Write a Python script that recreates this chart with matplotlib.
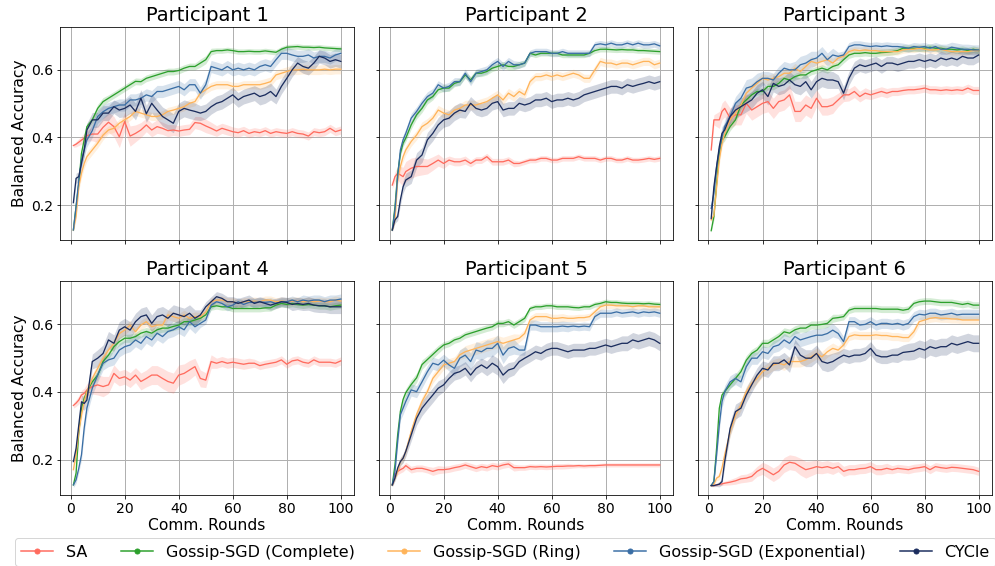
import matplotlib
matplotlib.use("Agg")
import matplotlib.pyplot as plt
import numpy as np
from matplotlib.lines import Line2D

ROUNDS = [1, 2, 3, 4, 5, 6] + list(range(8, 101, 2))

NAMES = ["SA", "Gossip-SGD (Complete)", "Gossip-SGD (Ring)",
         "Gossip-SGD (Exponential)", "CYCle"]
COLORS = ["#FF6B5E", "#2CA02C", "#FFB45A", "#3A6EA5", "#1B2D5E"]
TITLES = ["Participant 1", "Participant 2", "Participant 3",
          "Participant 4", "Participant 5", "Participant 6"]

# balanced accuracy, in thousandths (mean over runs)
# ---- participant 1
sa_p1 = [376, 380, 386, 392, 398, 405,
         410, 410, 430, 445, 432, 402, 447, 404, 412, 422,
         437, 422, 432, 427, 420, 422, 419, 422, 424, 444,
         442, 434, 427, 419, 427, 422, 417, 414, 420, 412,
         417, 414, 420, 412, 417, 414, 412, 417, 412, 410, 404, 417, 414, 417, 427, 417, 422]
complete_p1 = [126, 195, 264, 353, 393, 432,
               452, 486, 506, 516, 526, 536, 546, 556, 566, 565,
               575, 580, 585, 590, 595, 595, 598, 605, 610, 610,
               620, 630, 654, 657, 657, 659, 657, 654, 654, 655,
               654, 654, 656, 654, 652, 661, 667, 668, 669, 667, 667, 666, 667, 665, 664, 663, 662]
ring_p1 = [126, 166, 254, 294, 323, 343,
           363, 383, 407, 422, 427, 442, 452, 462, 477, 472,
           467, 462, 462, 467, 477, 481, 486, 491, 501, 506,
           531, 541, 551, 556, 556, 556, 551, 551, 556, 556,
           556, 556, 560, 565, 585, 590, 595, 600, 600, 602, 600, 600, 600, 602, 600, 602, 602]
expo_p1 = [126, 195, 274, 333, 363, 392,
           420, 462, 476, 486, 491, 496, 496, 511, 511, 516,
           526, 521, 536, 536, 541, 546, 551, 541, 556, 556,
           531, 556, 610, 605, 600, 610, 600, 605, 600, 605,
           600, 610, 615, 610, 630, 649, 649, 644, 640, 640, 644, 635, 640, 640, 635, 644, 649]
cycle_p1 = [207, 279, 284, 323, 363, 422,
            452, 452, 472, 472, 491, 481, 486, 496, 477, 516,
            470, 501, 481, 462, 452, 442, 477, 486, 481, 477,
            472, 477, 491, 501, 506, 516, 526, 511, 521, 526,
            531, 521, 526, 536, 521, 551, 575, 600, 620, 610, 605, 620, 640, 635, 625, 630, 625]

# ---- participant 2
sa_p2 = [259, 284, 294, 289, 284, 299,
         309, 314, 314, 314, 323, 333, 323, 333, 328, 328,
         333, 323, 333, 333, 343, 328, 328, 328, 333, 323,
         323, 328, 333, 333, 338, 338, 333, 333, 338, 338,
         338, 343, 338, 338, 338, 333, 338, 338, 333, 333, 338, 333, 333, 335, 338, 335, 338]
complete_p2 = [126, 195, 294, 353, 383, 398,
               437, 467, 486, 511, 521, 541, 546, 546, 560, 565,
               585, 570, 590, 590, 595, 605, 610, 615, 610, 610,
               615, 620, 649, 644, 649, 649, 649, 649, 644, 644,
               644, 644, 644, 649, 657, 661, 661, 660, 659, 660, 659, 659, 657, 657, 656, 655, 654]
ring_p2 = [126, 156, 274, 314, 343, 363,
           388, 407, 432, 442, 457, 481, 472, 467, 481, 486,
           496, 496, 496, 501, 506, 516, 526, 511, 531, 521,
           536, 526, 565, 580, 580, 585, 580, 585, 580, 585,
           590, 585, 575, 575, 600, 625, 620, 620, 615, 620, 620, 615, 620, 625, 625, 615, 620]
expo_p2 = [126, 185, 284, 363, 393, 412,
           457, 477, 501, 521, 531, 556, 546, 551, 565, 565,
           590, 565, 590, 595, 600, 615, 625, 610, 625, 615,
           615, 620, 649, 654, 654, 654, 649, 649, 654, 649,
           649, 649, 649, 649, 674, 677, 674, 679, 674, 674, 679, 674, 679, 674, 674, 677, 671]
cycle_p2 = [126, 156, 166, 215, 254, 274,
            284, 333, 348, 393, 412, 437, 452, 457, 472, 481,
            477, 501, 486, 481, 486, 501, 506, 481, 486, 486,
            501, 496, 501, 511, 511, 516, 506, 511, 511, 516,
            511, 516, 526, 531, 536, 541, 546, 551, 551, 546, 556, 551, 556, 560, 565, 560, 565]

# ---- participant 3
sa_p3 = [363, 452, 452, 452, 477, 486,
         457, 467, 467, 501, 481, 491, 501, 506, 486, 506,
         511, 526, 477, 477, 496, 486, 516, 491, 491, 496,
         511, 526, 526, 536, 521, 531, 526, 531, 536, 531,
         536, 536, 539, 541, 541, 543, 546, 541, 541, 539, 541, 539, 541, 539, 546, 539, 539]
complete_p3 = [124, 166, 264, 353, 393, 402,
               432, 452, 496, 511, 526, 536, 536, 551, 551, 560,
               575, 570, 580, 585, 585, 595, 600, 605, 600, 610,
               615, 630, 644, 649, 649, 651, 649, 649, 651, 652,
               654, 657, 664, 664, 664, 664, 664, 667, 664, 664, 661, 661, 659, 661, 657, 661, 657]
ring_p3 = [156, 170, 254, 333, 383, 412,
           452, 472, 496, 531, 546, 560, 575, 570, 575, 580,
           590, 590, 605, 595, 610, 625, 620, 625, 630, 620,
           635, 640, 654, 659, 657, 659, 657, 657, 654, 654,
           654, 654, 659, 661, 661, 664, 661, 659, 659, 661, 657, 654, 654, 654, 654, 657, 657]
expo_p3 = [190, 235, 314, 363, 402, 432,
           462, 501, 516, 546, 551, 565, 575, 575, 570, 590,
           605, 600, 600, 615, 620, 630, 635, 649, 630, 644,
           640, 644, 669, 674, 674, 671, 669, 671, 669, 671,
           669, 669, 667, 664, 669, 667, 669, 664, 669, 661, 661, 667, 664, 661, 661, 659, 659]
cycle_p3 = [160, 254, 314, 373, 412, 422,
            462, 481, 491, 501, 511, 531, 541, 521, 560, 551,
            556, 570, 556, 551, 565, 541, 565, 575, 570, 570,
            565, 531, 575, 605, 615, 610, 615, 620, 610, 620,
            620, 615, 620, 625, 625, 630, 625, 630, 625, 635, 630, 635, 630, 640, 635, 635, 644]

# ---- participant 4
sa_p4 = [360, 367, 376, 391, 396, 406,
         416, 421, 416, 421, 455, 440, 445, 435, 450, 431,
         440, 450, 450, 440, 431, 426, 450, 455, 465, 475,
         440, 435, 490, 485, 490, 485, 488, 485, 482, 485,
         485, 478, 482, 485, 488, 495, 482, 492, 495, 488, 485, 495, 488, 488, 488, 485, 492]
complete_p4 = [125, 160, 283, 352, 381, 401,
               430, 450, 490, 509, 534, 549, 559, 559, 564, 574,
               579, 574, 584, 589, 589, 594, 598, 608, 608, 613,
               618, 628, 652, 655, 652, 652, 647, 647, 647, 647,
               647, 647, 649, 649, 657, 662, 659, 662, 659, 657, 659, 657, 655, 655, 652, 655, 657]
ring_p4 = [170, 214, 283, 332, 371, 401,
           440, 470, 500, 524, 544, 573, 583, 598, 578, 598,
           608, 593, 598, 598, 628, 623, 618, 628, 618, 623,
           623, 637, 667, 672, 672, 667, 667, 662, 667, 667,
           669, 667, 672, 672, 667, 669, 667, 669, 669, 667, 669, 667, 669, 667, 667, 672, 669]
expo_p4 = [125, 140, 174, 214, 293, 352,
           411, 450, 485, 495, 500, 524, 534, 539, 554, 544,
           564, 554, 574, 564, 579, 584, 593, 584, 608, 593,
           603, 613, 657, 667, 662, 652, 657, 667, 659, 665,
           665, 667, 665, 667, 662, 667, 667, 672, 667, 672, 669, 672, 672, 667, 672, 672, 675]
cycle_p4 = [194, 233, 302, 371, 366, 376,
            490, 500, 514, 554, 544, 583, 593, 583, 608, 623,
            628, 603, 623, 628, 618, 633, 628, 623, 633, 618,
            628, 652, 667, 682, 677, 667, 667, 662, 667, 672,
            662, 667, 662, 657, 662, 667, 665, 659, 662, 659, 662, 657, 655, 655, 652, 652, 652]

# ---- participant 5
sa_p5 = [125, 155, 165, 170, 174, 182,
         170, 174, 174, 170, 165, 170, 170, 172, 176, 179,
         184, 179, 174, 179, 176, 182, 179, 184, 187, 176,
         176, 176, 179, 178, 179, 178, 179, 180, 180, 181,
         181, 182, 181, 182, 182, 183, 184, 184, 184, 184, 184, 184, 184, 184, 184, 184, 184]
complete_p5 = [125, 185, 274, 343, 378, 398,
               422, 442, 481, 496, 511, 526, 539, 544, 554, 559,
               569, 574, 579, 584, 589, 593, 603, 603, 608, 598,
               608, 618, 647, 652, 652, 655, 655, 652, 652, 652,
               650, 649, 652, 652, 659, 662, 667, 665, 665, 663, 662, 662, 662, 661, 662, 660, 659]
ring_p5 = [125, 145, 165, 194, 204, 224,
           283, 333, 372, 401, 440, 460, 480, 485, 490, 510,
           519, 524, 529, 534, 539, 544, 549, 544, 549, 554,
           559, 573, 613, 623, 623, 623, 618, 618, 620, 618,
           618, 620, 620, 623, 637, 652, 657, 657, 655, 655, 655, 652, 655, 655, 652, 652, 652]
expo_p5 = [125, 165, 255, 333, 352, 372,
           406, 401, 430, 460, 485, 480, 494, 480, 470, 500,
           509, 490, 524, 519, 529, 529, 544, 509, 529, 534,
           524, 524, 598, 598, 593, 593, 593, 593, 595, 593,
           595, 593, 595, 593, 623, 633, 633, 633, 637, 633, 635, 637, 633, 637, 635, 637, 633]
cycle_p5 = [125, 145, 175, 194, 204, 224,
            273, 322, 352, 372, 391, 411, 421, 440, 455, 460,
            470, 450, 470, 480, 470, 485, 475, 450, 465, 470,
            490, 500, 509, 519, 514, 524, 529, 529, 524, 519,
            524, 524, 524, 529, 529, 534, 539, 534, 539, 544, 544, 554, 549, 554, 559, 554, 544]

# ---- participant 6
sa_p6 = [123, 123, 125, 127, 128, 130,
         133, 137, 143, 145, 150, 165, 174, 165, 155, 165,
         184, 192, 189, 179, 170, 174, 179, 176, 179, 174,
         179, 165, 170, 170, 173, 174, 179, 170, 170, 174,
         170, 174, 172, 170, 174, 176, 179, 170, 179, 176, 174, 177, 176, 174, 172, 170, 165]
complete_p6 = [123, 135, 234, 352, 391, 401,
               421, 440, 460, 494, 514, 524, 544, 544, 554, 564,
               578, 574, 584, 589, 589, 598, 598, 600, 603, 618,
               620, 623, 642, 647, 647, 647, 647, 647, 645, 645,
               645, 645, 642, 645, 662, 667, 669, 669, 667, 665, 665, 665, 662, 659, 662, 657, 657]
ring_p6 = [123, 127, 145, 150, 175, 214,
           283, 331, 361, 401, 426, 440, 460, 470, 480, 485,
           480, 490, 490, 490, 495, 504, 514, 504, 519, 529,
           524, 539, 564, 569, 567, 567, 567, 569, 567, 567,
           564, 564, 561, 561, 578, 608, 613, 618, 620, 618, 618, 616, 616, 613, 613, 613, 613]
expo_p6 = [123, 135, 214, 302, 371, 401,
           430, 440, 430, 475, 500, 500, 519, 514, 534, 539,
           554, 544, 564, 554, 559, 564, 568, 568, 573, 583,
           573, 549, 608, 608, 598, 600, 608, 598, 603, 603,
           600, 603, 598, 603, 623, 630, 628, 633, 633, 628, 630, 633, 628, 630, 630, 630, 630]
cycle_p6 = [123, 123, 125, 127, 135, 194,
            292, 342, 352, 391, 421, 450, 470, 465, 485, 485,
            495, 480, 534, 509, 500, 500, 514, 490, 485, 490,
            500, 509, 504, 509, 509, 514, 529, 509, 504, 504,
            509, 509, 517, 519, 521, 529, 524, 534, 529, 534, 534, 544, 539, 544, 549, 544, 544]

# spread (std over runs), in thousandths
sa_p1_sd = [5, 8, 10, 12, 14, 16,
            20, 25, 28, 30, 30, 32, 28, 30, 25, 22,
            20, 20, 20, 18, 18, 16, 16, 16, 16, 18,
            20, 20, 18, 16, 15, 15, 14, 14, 13, 13,
            12, 12, 12, 12, 12, 12, 12, 12, 12, 12, 12, 12, 12, 12, 12, 12, 12]
complete_p1_sd = [5, 8, 10, 10, 10, 10,
                  10, 12, 12, 10, 10, 10, 10, 10, 10, 10,
                  10, 10, 10, 10, 10, 10, 10, 10, 10, 10,
                  12, 12, 10, 8, 8, 8, 8, 8, 8, 8,
                  8, 8, 8, 8, 8, 8, 8, 8, 8, 8, 8, 8, 8, 8, 8, 8, 8]
ring_p1_sd = [5, 10, 12, 14, 14, 14,
              14, 14, 14, 12, 12, 12, 12, 12, 12, 12,
              12, 12, 12, 12, 12, 12, 12, 12, 12, 12,
              12, 12, 12, 12, 12, 12, 12, 12, 12, 12,
              12, 14, 14, 14, 14, 14, 14, 14, 14, 14, 14, 14, 14, 14, 14, 14, 14]
expo_p1_sd = [5, 10, 15, 18, 20, 20,
              20, 20, 20, 18, 18, 18, 18, 18, 18, 18,
              18, 18, 18, 18, 18, 18, 18, 18, 18, 18,
              18, 18, 18, 18, 18, 18, 18, 18, 18, 18,
              18, 18, 18, 18, 18, 18, 18, 18, 18, 18, 18, 18, 18, 18, 18, 18, 18]
cycle_p1_sd = [10, 15, 15, 18, 20, 20,
               22, 22, 22, 22, 20, 22, 25, 25, 25, 25,
               25, 28, 28, 28, 28, 28, 25, 25, 25, 25,
               22, 22, 22, 22, 22, 22, 22, 22, 22, 22,
               22, 25, 25, 25, 22, 22, 22, 20, 20, 20, 20, 20, 20, 20, 20, 20, 20]

sa_p2_sd = [10, 15, 20, 25, 28, 30,
            30, 28, 25, 22, 20, 18, 15, 12, 12, 12,
            12, 10, 10, 10, 10, 10, 10, 10, 10, 10,
            8, 8, 8, 8, 8, 8, 8, 8, 8, 8,
            8, 8, 8, 8, 8, 8, 8, 8, 8, 8, 8, 8, 8, 8, 8, 8, 8]
complete_p2_sd = [5, 8, 10, 10, 10, 10,
                  12, 12, 12, 12, 10, 10, 10, 10, 10, 10,
                  10, 10, 10, 10, 10, 10, 10, 10, 10, 10,
                  10, 8, 8, 8, 8, 8, 8, 8, 8, 8,
                  8, 8, 8, 8, 8, 8, 8, 8, 8, 8, 8, 8, 8, 8, 8, 8, 8]
ring_p2_sd = [5, 10, 12, 14, 14, 14,
              14, 14, 14, 14, 14, 14, 14, 14, 14, 14,
              14, 14, 14, 14, 14, 14, 14, 14, 14, 14,
              12, 12, 12, 12, 12, 12, 12, 12, 12, 12,
              12, 12, 12, 12, 12, 12, 12, 12, 12, 12, 12, 12, 12, 12, 12, 12, 12]
expo_p2_sd = [5, 10, 12, 14, 14, 14,
              14, 14, 14, 14, 14, 12, 12, 12, 12, 12,
              12, 12, 12, 12, 12, 12, 12, 12, 12, 12,
              10, 10, 10, 10, 10, 10, 10, 10, 10, 10,
              10, 10, 10, 10, 10, 10, 10, 10, 10, 10, 10, 10, 10, 10, 10, 10, 10]
cycle_p2_sd = [5, 10, 12, 15, 18, 20,
               20, 22, 22, 22, 22, 22, 22, 22, 22, 22,
               20, 20, 20, 20, 20, 20, 20, 20, 20, 20,
               20, 20, 20, 20, 20, 20, 20, 20, 20, 20,
               20, 20, 20, 20, 20, 20, 20, 20, 20, 20, 20, 20, 20, 20, 20, 20, 20]

sa_p3_sd = [10, 15, 20, 25, 25, 25,
            30, 30, 30, 30, 30, 30, 30, 30, 30, 30,
            30, 30, 30, 30, 30, 30, 25, 25, 25, 25,
            20, 20, 18, 18, 16, 16, 14, 14, 14, 14,
            12, 12, 12, 12, 12, 12, 12, 12, 12, 12, 12, 12, 12, 12, 12, 12, 12]
complete_p3_sd = [5, 10, 12, 12, 12, 12,
                  12, 12, 12, 10, 10, 10, 10, 10, 10, 10,
                  10, 10, 10, 10, 10, 10, 10, 10, 10, 10,
                  10, 10, 10, 10, 10, 10, 10, 10, 10, 10,
                  10, 10, 10, 10, 10, 10, 10, 10, 10, 10, 10, 10, 10, 10, 10, 10, 10]
ring_p3_sd = [10, 12, 14, 14, 14, 14,
              14, 14, 14, 14, 14, 14, 14, 14, 14, 14,
              14, 14, 14, 14, 14, 14, 14, 14, 14, 14,
              10, 10, 10, 10, 10, 10, 10, 10, 10, 10,
              10, 10, 10, 10, 10, 10, 10, 10, 10, 10, 10, 10, 10, 10, 10, 10, 10]
expo_p3_sd = [10, 15, 18, 20, 20, 20,
              20, 20, 25, 25, 25, 25, 20, 20, 20, 20,
              20, 20, 25, 25, 25, 25, 20, 20, 20, 20,
              12, 12, 12, 12, 12, 12, 12, 12, 12, 12,
              12, 12, 12, 12, 12, 12, 12, 12, 12, 15, 15, 15, 15, 15, 15, 15, 15]
cycle_p3_sd = [10, 15, 18, 20, 20, 20,
               22, 25, 25, 25, 25, 25, 25, 25, 25, 25,
               25, 25, 25, 25, 25, 25, 25, 25, 25, 25,
               20, 20, 20, 20, 20, 20, 20, 20, 20, 20,
               20, 20, 20, 20, 20, 20, 20, 20, 20, 20, 20, 20, 20, 20, 20, 20, 20]

sa_p4_sd = [8, 10, 12, 14, 15, 18,
            22, 30, 30, 25, 25, 22, 22, 22, 22, 25,
            25, 28, 28, 30, 30, 30, 30, 28, 28, 25,
            25, 22, 20, 15, 15, 15, 15, 15, 15, 15,
            12, 12, 12, 12, 12, 12, 12, 12, 12, 12, 12, 12, 12, 12, 12, 12, 12]
complete_p4_sd = [5, 10, 12, 12, 12, 12,
                  12, 12, 12, 12, 12, 12, 12, 12, 12, 12,
                  12, 12, 12, 12, 12, 12, 12, 12, 12, 12,
                  10, 10, 10, 10, 10, 10, 10, 10, 10, 10,
                  10, 10, 10, 10, 10, 10, 10, 10, 10, 10, 10, 10, 10, 10, 10, 10, 10]
ring_p4_sd = [10, 12, 14, 14, 14, 14,
              14, 14, 14, 14, 14, 14, 14, 14, 14, 14,
              14, 14, 14, 14, 14, 14, 14, 14, 14, 14,
              12, 12, 12, 12, 12, 12, 12, 12, 12, 12,
              12, 12, 12, 12, 12, 12, 12, 12, 12, 12, 12, 12, 12, 12, 12, 12, 12]
expo_p4_sd = [8, 10, 12, 15, 18, 20,
              20, 20, 20, 20, 20, 20, 20, 20, 20, 20,
              20, 20, 20, 20, 20, 20, 20, 20, 20, 20,
              12, 12, 12, 12, 12, 12, 12, 12, 12, 12,
              12, 12, 12, 12, 12, 12, 12, 12, 12, 15, 15, 15, 15, 15, 15, 15, 15]
cycle_p4_sd = [10, 15, 18, 20, 20, 20,
               22, 25, 25, 25, 25, 25, 25, 25, 25, 25,
               25, 25, 25, 25, 25, 25, 25, 25, 25, 25,
               15, 15, 15, 15, 15, 15, 15, 15, 15, 15,
               15, 15, 15, 15, 15, 15, 15, 18, 18, 18, 20, 20, 20, 20, 20, 20, 20]

sa_p5_sd = [5, 8, 10, 10, 10, 10,
            10, 10, 10, 10, 12, 12, 10, 10, 10, 10,
            10, 10, 10, 10, 10, 10, 10, 10, 10, 10,
            8, 8, 8, 8, 8, 8, 8, 8, 8, 8,
            6, 6, 6, 6, 6, 6, 6, 6, 6, 6, 6, 6, 6, 6, 6, 6, 6]
complete_p5_sd = [5, 8, 10, 12, 12, 12,
                  14, 14, 14, 12, 12, 12, 10, 10, 10, 10,
                  10, 10, 10, 10, 10, 10, 10, 10, 10, 10,
                  10, 10, 8, 8, 8, 8, 8, 8, 8, 8,
                  8, 8, 8, 8, 8, 8, 8, 8, 8, 8, 8, 8, 8, 8, 8, 8, 8]
ring_p5_sd = [5, 8, 10, 12, 12, 12,
              14, 14, 14, 14, 14, 14, 14, 14, 14, 14,
              18, 18, 18, 18, 18, 18, 18, 18, 18, 18,
              12, 12, 12, 12, 12, 12, 12, 12, 12, 10,
              10, 10, 10, 10, 10, 10, 10, 10, 10, 10, 10, 10, 10, 10, 10, 10, 10]
expo_p5_sd = [5, 10, 14, 16, 18, 18,
              18, 18, 18, 18, 18, 18, 18, 18, 22, 25,
              25, 25, 25, 25, 25, 25, 25, 25, 22, 22,
              15, 15, 15, 15, 15, 15, 15, 15, 15, 15,
              12, 12, 12, 12, 12, 12, 12, 12, 12, 12, 12, 12, 12, 12, 12, 12, 12]
cycle_p5_sd = [5, 8, 10, 12, 14, 15,
               18, 20, 22, 22, 22, 22, 20, 20, 20, 20,
               20, 20, 20, 20, 22, 25, 25, 25, 22, 20,
               20, 20, 20, 20, 20, 20, 20, 20, 20, 20,
               20, 20, 20, 20, 20, 20, 20, 20, 20, 22, 22, 22, 22, 22, 22, 22, 22]

sa_p6_sd = [3, 3, 3, 4, 5, 6,
            8, 10, 12, 12, 14, 15, 18, 20, 20, 20,
            22, 22, 22, 25, 25, 22, 20, 18, 18, 18,
            15, 15, 15, 15, 15, 15, 15, 15, 15, 15,
            12, 12, 12, 12, 12, 12, 12, 12, 12, 12, 12, 12, 12, 12, 12, 12, 12]
complete_p6_sd = [3, 5, 10, 12, 12, 12,
                  12, 14, 14, 14, 12, 12, 12, 12, 12, 12,
                  12, 12, 12, 12, 12, 12, 12, 12, 12, 12,
                  10, 10, 10, 10, 10, 10, 10, 10, 10, 10,
                  10, 10, 10, 10, 10, 10, 10, 10, 10, 10, 10, 10, 10, 10, 10, 10, 10]
ring_p6_sd = [3, 5, 8, 10, 12, 14,
              16, 16, 16, 16, 16, 16, 16, 16, 16, 16,
              16, 16, 16, 16, 16, 16, 16, 16, 16, 16,
              12, 12, 12, 12, 12, 12, 12, 12, 12, 12,
              12, 12, 12, 12, 12, 12, 12, 12, 12, 12, 12, 12, 12, 12, 12, 12, 12]
expo_p6_sd = [3, 5, 12, 16, 18, 18,
              18, 18, 18, 18, 18, 18, 18, 18, 18, 18,
              20, 20, 20, 20, 20, 20, 20, 20, 20, 20,
              15, 15, 15, 15, 15, 15, 15, 15, 15, 15,
              15, 15, 15, 15, 15, 15, 15, 15, 15, 15, 15, 15, 15, 15, 15, 15, 15]
cycle_p6_sd = [3, 3, 5, 8, 10, 15,
               20, 22, 22, 22, 22, 22, 22, 22, 22, 22,
               22, 22, 22, 25, 25, 25, 25, 25, 25, 25,
               20, 20, 20, 20, 20, 20, 20, 20, 20, 20,
               20, 22, 22, 25, 25, 25, 25, 25, 25, 25, 25, 25, 25, 25, 25, 25, 25]

# one entry per participant, series in legend order
PANELS = [
    [(sa_p1, sa_p1_sd), (complete_p1, complete_p1_sd), (ring_p1, ring_p1_sd),
     (expo_p1, expo_p1_sd), (cycle_p1, cycle_p1_sd)],
    [(sa_p2, sa_p2_sd), (complete_p2, complete_p2_sd), (ring_p2, ring_p2_sd),
     (expo_p2, expo_p2_sd), (cycle_p2, cycle_p2_sd)],
    [(sa_p3, sa_p3_sd), (complete_p3, complete_p3_sd), (ring_p3, ring_p3_sd),
     (expo_p3, expo_p3_sd), (cycle_p3, cycle_p3_sd)],
    [(sa_p4, sa_p4_sd), (complete_p4, complete_p4_sd), (ring_p4, ring_p4_sd),
     (expo_p4, expo_p4_sd), (cycle_p4, cycle_p4_sd)],
    [(sa_p5, sa_p5_sd), (complete_p5, complete_p5_sd), (ring_p5, ring_p5_sd),
     (expo_p5, expo_p5_sd), (cycle_p5, cycle_p5_sd)],
    [(sa_p6, sa_p6_sd), (complete_p6, complete_p6_sd), (ring_p6, ring_p6_sd),
     (expo_p6, expo_p6_sd), (cycle_p6, cycle_p6_sd)],
]

x = np.array(ROUNDS)

fig, axes = plt.subplots(2, 3, figsize=(995 / 72, 566 / 72), dpi=72,
                         sharex=True, sharey=True)
fig.subplots_adjust(left=0.0603, right=0.997, top=0.953, bottom=0.1254,
                    wspace=0.084, hspace=0.19)

for i, ax in enumerate(axes.flat):
    for (mean, sd), color in zip(PANELS[i], COLORS):
        m = np.array(mean) / 1000
        s = np.array(sd) / 1000
        ax.fill_between(x, m - s, m + s, color=color, alpha=0.2, lw=0)
        ax.plot(x, m, color=color, lw=1.3)
    ax.set_title(TITLES[i], fontsize=19.5)
    ax.grid(True, color="#b0b0b0", lw=1)
    ax.set_axisbelow(True)
    ax.tick_params(labelsize=14)

axes[0, 0].set_ylim(0.095, 0.728)
axes[0, 0].set_xticks([0, 20, 40, 60, 80, 100])
axes[0, 0].set_yticks([0.2, 0.4, 0.6])
for ax in axes[:, 0]:
    ax.set_ylabel("Balanced Accuracy", fontsize=15.5)
for ax in axes[1, :]:
    ax.set_xlabel("Comm. Rounds", fontsize=15.5, labelpad=2)

handles = [Line2D([], [], color=c, lw=1.5, marker="o", ms=5) for c in COLORS]
fig.legend(handles, NAMES, loc="lower center", ncol=5,
           bbox_to_anchor=(0.508, -0.014), fontsize=16, columnspacing=2.1,
           frameon=True)

fig.savefig("out.png", dpi=72)
